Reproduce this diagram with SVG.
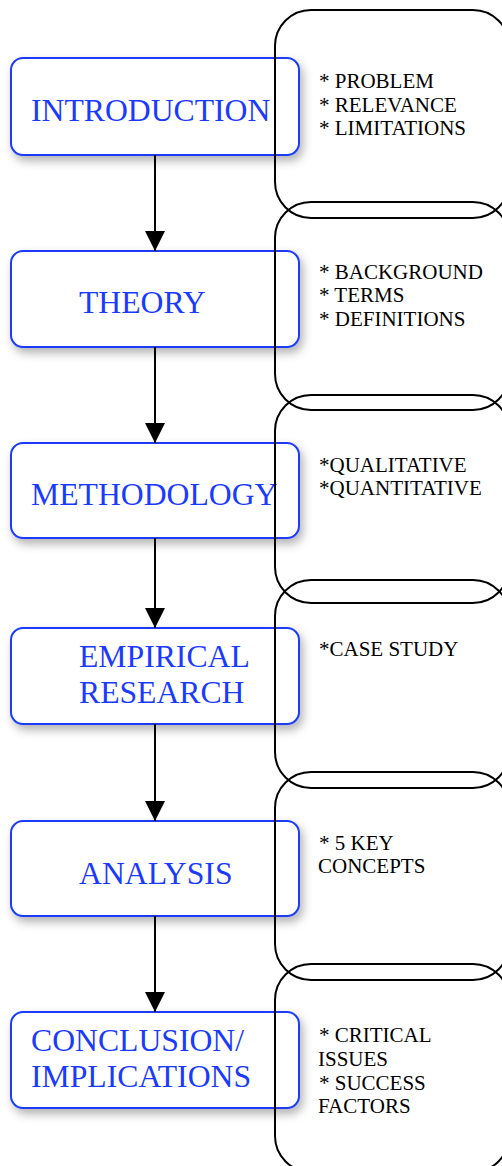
<svg xmlns="http://www.w3.org/2000/svg" width="502" height="1166" viewBox="0 0 502 1166">
<style>
.step rect{fill:#fff;stroke:#1a3aff;stroke-width:2;filter:url(#sh)}
.step text{font-family:"Liberation Serif","Times New Roman",serif;font-size:31.7px;fill:#1a3aff}
.note rect{fill:none;stroke:#000;stroke-width:2}
.note text{font-family:"Liberation Serif","Times New Roman",serif;font-size:21px;fill:#000}
.conn line{stroke:#000;stroke-width:2;marker-end:url(#ah)}
</style>
<defs>
<filter id="sh" x="-10%" y="-25%" width="130%" height="160%">
<feDropShadow dx="3" dy="5" stdDeviation="5" flood-color="#000" flood-opacity="0.3"/>
</filter>
<marker id="ah" viewBox="0 0 20 20" refX="20" refY="10" markerWidth="20" markerHeight="20" markerUnits="userSpaceOnUse" orient="auto">
<path d="M0,0 L20,10 L0,20 z" fill="#000"/>
</marker>
</defs>
<g id="n-intro" class="step"><rect x="11" y="58" width="288" height="97" rx="12"/><text x="31" y="121">INTRODUCTION</text></g>
<g id="n-theory" class="step"><rect x="11" y="251" width="288" height="96" rx="12"/><text x="79" y="313">THEORY</text></g>
<g id="n-method" class="step"><rect x="11" y="443" width="288" height="95" rx="12"/><text x="31" y="505">METHODOLOGY</text></g>
<g id="n-empirical" class="step"><rect x="11" y="628" width="288" height="96" rx="12"/><text x="79" y="667">EMPIRICAL</text><text x="79" y="703">RESEARCH</text></g>
<g id="n-analysis" class="step"><rect x="11" y="821" width="288" height="95" rx="12"/><text x="79" y="884">ANALYSIS</text></g>
<g id="n-conclusion" class="step"><rect x="11" y="1012" width="288" height="96" rx="12"/><text x="31" y="1051">CONCLUSION/</text><text x="31" y="1087">IMPLICATIONS</text></g>
<g id="note-intro" class="note"><rect x="275" y="10" width="234" height="208" rx="36"/><text x="319" y="88">* PROBLEM</text><text x="319" y="112">* RELEVANCE</text><text x="319" y="135">* LIMITATIONS</text></g>
<g id="note-theory" class="note"><rect x="275" y="202" width="234" height="208" rx="36"/><text x="319" y="279">* BACKGROUND</text><text x="319" y="302">* TERMS</text><text x="319" y="326">* DEFINITIONS</text></g>
<g id="note-method" class="note"><rect x="275" y="395" width="234" height="208" rx="36"/><text x="319" y="472">*QUALITATIVE</text><text x="319" y="495">*QUANTITATIVE</text></g>
<g id="note-empirical" class="note"><rect x="275" y="580" width="234" height="208" rx="36"/><text x="319" y="656">*CASE STUDY</text></g>
<g id="note-analysis" class="note"><rect x="275" y="772" width="234" height="208" rx="36"/><text x="319" y="850">* 5 KEY</text><text x="318" y="873">CONCEPTS</text></g>
<g id="note-conclusion" class="note"><rect x="275" y="964" width="234" height="208" rx="36"/><text x="319" y="1042">* CRITICAL</text><text x="318" y="1066">ISSUES</text><text x="319" y="1090">* SUCCESS</text><text x="318" y="1113">FACTORS</text></g>
<g id="connectors" class="conn">
<line x1="155" y1="155" x2="155" y2="251"/>
<line x1="155" y1="347" x2="155" y2="443"/>
<line x1="155" y1="538" x2="155" y2="628"/>
<line x1="155" y1="724" x2="155" y2="821"/>
<line x1="155" y1="916" x2="155" y2="1012"/>
</g>
</svg>
